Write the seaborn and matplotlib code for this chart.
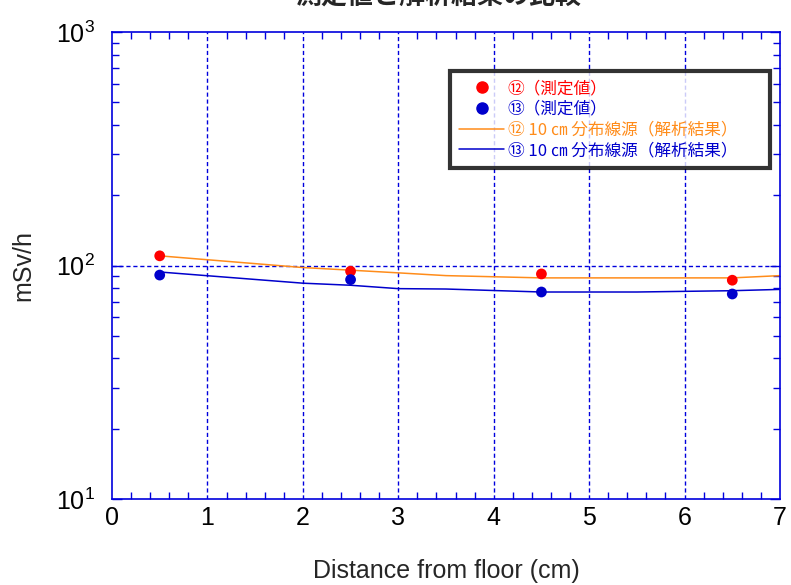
import matplotlib
matplotlib.use("Agg")
import matplotlib.pyplot as plt
import seaborn as sns
import pandas as pd
import numpy as np
from matplotlib.ticker import FixedLocator, LogLocator, NullFormatter
from matplotlib.lines import Line2D

# ---- data ----
meas_x = [0.5, 2.5, 4.5, 6.5]
meas12 = [110, 94.5, 92, 86.5]
meas13 = [91, 87, 77, 75.5]
calc_x = [0.5, 2.0, 2.5, 3.0, 3.5, 4.5, 5.5, 6.5, 7.0]
calc12 = [110, 98, 95.5, 93, 90.5, 88.5, 88.5, 88.5, 90.5]
calc13 = [93.8, 84, 82.3, 79.6, 79.3, 77, 77, 78, 79]
labels = ["⑫（測定値）", "⑬（測定値）", "⑫ 10 ㎝ 分布線源（解析結果）", "⑬ 10 ㎝ 分布線源（解析結果）"]
title = "測定値と解析結果の比較"
xlabel = "Distance from floor (cm)"
ylabel = "mSv/h"
xticks = [0, 1, 2, 3, 4, 5, 6, 7]
yticks = [10, 100, 1000]
ytick_labels = [r"$\mathregular{10^{1}}$", r"$\mathregular{10^{2}}$", r"$\mathregular{10^{3}}$"]

sns.set_style("white")
plt.rcParams['font.family'] = ['Liberation Sans', 'DejaVu Sans']

fig = plt.figure(figsize=(7.91, 5.85), dpi=100)
ax = fig.add_axes([112/791, 1-499/585, (780-112)/791, (499-32)/585])

dfm = pd.DataFrame({"x": meas_x * 2, "y": meas12 + meas13,
                    "s": [labels[0]] * 4 + [labels[1]] * 4})
dfc = pd.DataFrame({"x": calc_x * 2, "y": calc12 + calc13,
                    "s": [labels[2]] * len(calc_x) + [labels[3]] * len(calc_x)})

red, dblue, orange, lblue = "#ff0000", "#0000cc", "#ff8c1a", "#0000cc"
sns.scatterplot(data=dfm, x="x", y="y", hue="s", palette=[red, dblue],
                s=60, edgecolor="none", ax=ax, legend=False, zorder=3)
sns.lineplot(data=dfc, x="x", y="y", hue="s", palette=[orange, lblue],
             linewidth=1.1, ax=ax, legend=False, zorder=2)

ax.set_yscale("log")
ax.set_xlim(0, 7)
ax.set_ylim(10, 1000)

blue = "#0000dd"
for sp in ax.spines.values():
    sp.set_color(blue)
    sp.set_linewidth(1.2)

ax.xaxis.set_major_locator(FixedLocator(xticks))
ax.xaxis.set_minor_locator(FixedLocator(np.arange(0, 7.01, 0.2)))
ax.yaxis.set_major_locator(FixedLocator(yticks))
ax.yaxis.set_minor_locator(LogLocator(base=10, subs=np.arange(2, 10)))
ax.yaxis.set_minor_formatter(NullFormatter())
ax.set_yticklabels(ytick_labels)

ax.tick_params(which="both", direction="in", colors=blue, labelcolor="black",
               top=True, right=True, bottom=True, left=True, labelsize=18)
ax.tick_params(which="major", length=7, width=1)
ax.tick_params(which="minor", length=5, width=1)
ax.tick_params(axis="x", which="major", length=0, pad=5)
ax.tick_params(axis="y", which="major", pad=12)

for xv in xticks[1:-1]:
    ax.axvline(xv, color=blue, linestyle=(0, (3, 2)), linewidth=1, zorder=1)
ax.axhline(100, color=blue, linestyle=(0, (3, 2)), linewidth=1, zorder=1)

ax.set_xlabel(xlabel, fontsize=18, labelpad=21)
ax.set_ylabel(ylabel, fontsize=18, labelpad=15)

handles = [
    Line2D([], [], linestyle="none", marker="o", color=red, markersize=8),
    Line2D([], [], linestyle="none", marker="o", color=dblue, markersize=8),
    Line2D([], [], color=orange, linewidth=1.1),
    Line2D([], [], color=lblue, linewidth=1.1),
]
x0 = (450-112)/668
y1 = 1-(71-32)/467
w = (770-450)/668
h = (170-71)/467
leg = ax.legend(handles, labels, loc="upper left", bbox_to_anchor=(x0, y1-h, w, h),
                mode="expand",
                prop={"family": ["Noto Sans CJK JP", "DejaVu Sans"], "size": 12},
                frameon=True, fancybox=False, handlelength=2.7, handletextpad=0.2,
                labelspacing=0.22, borderpad=0.55, borderaxespad=0)
leg.get_frame().set_edgecolor("black")
leg.get_frame().set_linewidth(3)
for t, c in zip(leg.get_texts(), [red, dblue, orange, lblue]):
    t.set_color(c)

fig.text(438/791, 1-10/585, title, ha="center", va="bottom", fontsize=18.7, fontweight="bold",
         family=["Noto Sans CJK JP", "DejaVu Sans"])

fig.savefig("out.png", dpi=100)
